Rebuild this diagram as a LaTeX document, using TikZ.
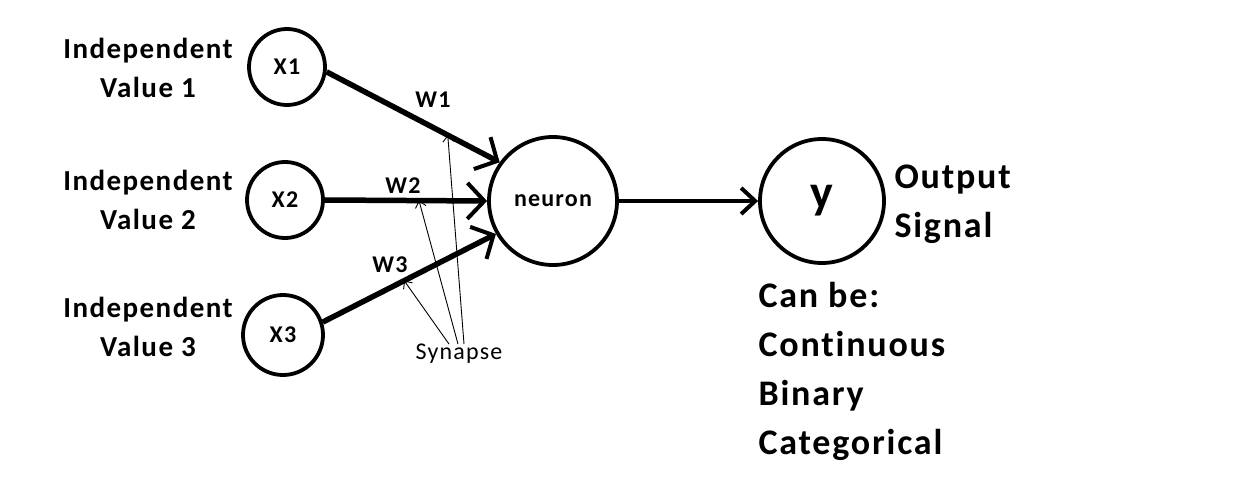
\documentclass[tikz,border=0pt]{standalone}
\usepackage{fontspec}
\setmainfont{Carlito}[Ligatures=NoCommon, LetterSpace=5]
\usetikzlibrary{arrows.meta, positioning}

\begin{document}
\begin{tikzpicture}[x=1pt, y=-1pt,
    unit/.style={circle, draw, line width=3.8pt, inner sep=0pt},
    small/.style={font=\bfseries\fontsize{24}{28}\selectfont},
    side/.style={font=\bfseries\fontsize{29}{39}\selectfont, align=center},
    big/.style={font=\bfseries\fontsize{36}{49}\selectfont, align=left, anchor=west},
    input/.style={line width=5.5pt, -{Straight Barb[length=17pt, width=36pt, line width=4pt]}},
    output/.style={line width=4pt, -{Straight Barb[length=14pt, width=26pt, line width=4pt]}},
    pointer/.style={line width=0.9pt, -{Straight Barb[length=6pt, width=11pt, line width=0.9pt]}}]
    \useasboundingbox (0,0) rectangle (1237,489);
    % inputs with their captions
    \foreach \i/\x/\y/\d/\ly in {1/287/67/76/68, 2/285/200/76/200, 3/283/335/80/327} {
        \node[unit, small, minimum size=\d pt] (x\i) at (\x,\y) {X\i};
        \node[side] (in\i) at (148,\ly) {Independent\\Value \i};
    }
    \node[unit, small, minimum size=128pt] (neuron) at (553,201) {neuron};
    \node[unit, minimum size=124pt, font=\bfseries\fontsize{48}{50}\selectfont] (out) at (822,201) {\raisebox{-5pt}{y}};

    % weighted connections
    \draw[input] (x1.-7) -- coordinate[pos=0.7] (s1) (neuron.144);
    \draw[input] (x2.east) -- coordinate[pos=0.58] (s2) (neuron.west);
    \draw[input] (x3.18) -- coordinate[pos=0.47] (s3) (neuron.210);
    \node[small] (w1) at (433,100) {W1};
    \node[small] (w2) at (403,186) {W2};
    \node[small] (w3) at (390,265) {W3};

    % synapse pointers
    \node[inner sep=0pt, font=\fontsize{24}{28}\selectfont] (syn) at (459,354) {Synapse};
    \draw[pointer] ([xshift=5pt]syn.north) -- (s1);
    \draw[pointer] ([xshift=-1pt]syn.north) -- (s2);
    \draw[pointer] ([xshift=-10pt]syn.north) -- (s3);

    \draw[output] (neuron) -- (out);
    \node[big] (sig) at (891,204) {Output\\Signal};
    \node[big] (kind) at (755,371) {Can be:\\Continuous\\Binary\\Categorical};
\end{tikzpicture}
\end{document}
